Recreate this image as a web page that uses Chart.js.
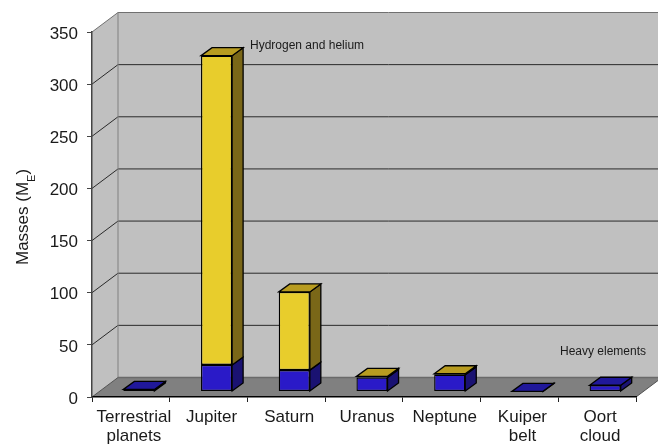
<!DOCTYPE html>
<html>
<head>
<meta charset="utf-8">
<style>
  html, body { margin: 0; padding: 0; background: #fff; }
  canvas { display: block; }
</style>
<script src="https://cdn.jsdelivr.net/npm/chart.js@4"></script>
</head>
<body>
<canvas id="massChart" width="658" height="444"></canvas>
<script>
const categories = [['Terrestrial', 'planets'], 'Jupiter', 'Saturn', 'Uranus', 'Neptune', ['Kuiper', 'belt'], ['Oort', 'cloud']];
const heavyElements = [2, 25.5, 20.5, 13.5, 16, 0.1, 6];
const hydrogenHelium = [0, 296.5, 75, 1, 1, 0, 0];

const FONT = '"Liberation Sans", Arial, sans-serif';
const WALL = { dx: 26, dy: -19.5 };
const BAR_SHIFT = { dx: 8, dy: -5.5 };
const BAR_DEPTH = { dx: 11, dy: -8 };

function poly(ctx, pts, fill, stroke) {
  ctx.beginPath();
  pts.forEach((p, i) => i ? ctx.lineTo(p[0], p[1]) : ctx.moveTo(p[0], p[1]));
  ctx.closePath();
  if (fill) { ctx.fillStyle = fill; ctx.fill(); }
  if (stroke) { ctx.strokeStyle = stroke; ctx.lineWidth = 1.3; ctx.stroke(); }
}

// walls and floor of the 3d box, and the gridlines on them
const boxPlugin = {
  id: 'box',
  beforeDraw(chart) {
    const { ctx, chartArea: a, scales: { y } } = chart;
    const far = 700;
    const bx = a.left + WALL.dx;
    const by = a.top + WALL.dy;
    const fy = a.bottom + WALL.dy;
    ctx.save();
    poly(ctx, [[bx, by], [far, by], [far, fy], [bx, fy]], '#c0c0c0');
    poly(ctx, [[a.left, a.top], [bx, by], [bx, fy], [a.left, a.bottom]], '#c0c0c0');
    poly(ctx, [[a.left, a.bottom], [bx, fy], [a.right + WALL.dx, fy], [a.right, a.bottom]], '#808080');

    y.ticks.forEach(t => {
      if (t.value === 0) return;
      const py = y.getPixelForValue(t.value);
      ctx.strokeStyle = t.value === 350 ? '#707070' : '#2a2a2a';
      ctx.lineWidth = 1;
      ctx.beginPath();
      ctx.moveTo(a.left, py);
      ctx.lineTo(bx, py + WALL.dy);
      ctx.lineTo(far, py + WALL.dy);
      ctx.stroke();
    });

    ctx.strokeStyle = '#808080';
    ctx.beginPath();
    ctx.moveTo(bx, by);
    ctx.lineTo(bx, fy);
    ctx.stroke();
    ctx.strokeStyle = '#6a6a6a';
    ctx.lineWidth = 1.5;
    ctx.beginPath();
    ctx.moveTo(bx, fy);
    ctx.lineTo(far, fy);
    ctx.stroke();
    ctx.strokeStyle = '#505050';
    ctx.lineWidth = 1;
    ctx.beginPath();
    ctx.moveTo(a.left, a.bottom);
    ctx.lineTo(bx, fy);
    ctx.moveTo(a.right, a.bottom);
    ctx.lineTo(a.right + WALL.dx, fy);
    ctx.stroke();
    ctx.restore();
  }
};

// bars sit in the middle of the box depth, so shift them and add side and top faces
const bar3dPlugin = {
  id: 'bar3d',
  beforeDatasetsDraw(chart) {
    chart.ctx.save();
    chart.ctx.translate(BAR_SHIFT.dx, BAR_SHIFT.dy);
  },
  afterDatasetsDraw(chart) {
    const ctx = chart.ctx;
    const blue = chart.getDatasetMeta(0).data;
    const yellow = chart.getDatasetMeta(1).data;
    const d = BAR_DEPTH;
    const sideFace = (el, color) => {
      const r = el.x + el.width / 2;
      poly(ctx, [[r, el.y], [r + d.dx, el.y + d.dy], [r + d.dx, el.base + d.dy], [r, el.base]], color, '#000');
    };
    const topFace = (el, color) => {
      const l = el.x - el.width / 2;
      const r = el.x + el.width / 2;
      poly(ctx, [[l, el.y], [r, el.y], [r + d.dx, el.y + d.dy], [l + d.dx, el.y + d.dy]], color, '#000');
    };
    blue.forEach((el, i) => {
      sideFace(el, '#1a1272');
      if (hydrogenHelium[i] > 0) {
        sideFace(yellow[i], '#7a6718');
        topFace(yellow[i], '#b89c20');
      } else {
        topFace(el, '#20189a');
      }
    });
    ctx.restore();
  }
};

const textPlugin = {
  id: 'labels',
  afterDraw(chart) {
    const ctx = chart.ctx;
    ctx.save();
    ctx.fillStyle = '#1a1a1a';
    ctx.textBaseline = 'alphabetic';
    ctx.textAlign = 'left';
    ctx.font = '12px ' + FONT;
    ctx.fillText('Hydrogen and helium', 250, 49);
    ctx.fillText('Heavy elements', 560, 355);

    // y title with subscript
    ctx.translate(28, 265);
    ctx.rotate(-Math.PI / 2);
    ctx.font = '17px ' + FONT;
    const main = 'Masses (M';
    ctx.fillText(main, 0, 0);
    let x = ctx.measureText(main).width;
    ctx.font = '11px ' + FONT;
    ctx.fillText('E', x, 7);
    x += ctx.measureText('E').width;
    ctx.font = '17px ' + FONT;
    ctx.fillText(')', x, 0);
    ctx.restore();
  }
};

new Chart(document.getElementById('massChart'), {
  type: 'bar',
  data: {
    labels: categories,
    datasets: [
      { label: 'Heavy elements', data: heavyElements, backgroundColor: '#2a1ac8' },
      { label: 'Hydrogen and helium', data: hydrogenHelium, backgroundColor: '#e8cd2c' }
    ]
  },
  plugins: [boxPlugin, bar3dPlugin, textPlugin],
  options: {
    responsive: false,
    animation: false,
    layout: { padding: { top: 32, right: 22, left: 0, bottom: 0 } },
    datasets: {
      bar: {
        barPercentage: 0.4,
        categoryPercentage: 1,
        borderColor: '#000',
        borderWidth: 1.3,
        borderSkipped: false,
        clip: false
      }
    },
    plugins: {
      legend: { display: false },
      tooltip: { enabled: false }
    },
    scales: {
      x: {
        stacked: true,
        afterFit(scale) { scale.height = 47; },
        grid: { offset: true, drawOnChartArea: false, tickLength: 5, color: '#222' },
        border: { color: '#000', width: 1.5 },
        ticks: {
          autoSkip: false,
          maxRotation: 0,
          padding: 6,
          labelOffset: 3,
          color: '#1a1a1a',
          font: { family: FONT, size: 17, lineHeight: 1.12 }
        }
      },
      y: {
        stacked: true,
        min: 0,
        max: 350,
        afterFit(scale) { scale.width = 92; },
        grid: { drawOnChartArea: false, tickLength: 5, color: '#444' },
        border: { color: '#444', width: 1.5 },
        ticks: {
          stepSize: 50,
          padding: 9,
          labelOffset: 2,
          color: '#1a1a1a',
          font: { family: FONT, size: 17 }
        }
      }
    }
  }
});
</script>
</body>
</html>
